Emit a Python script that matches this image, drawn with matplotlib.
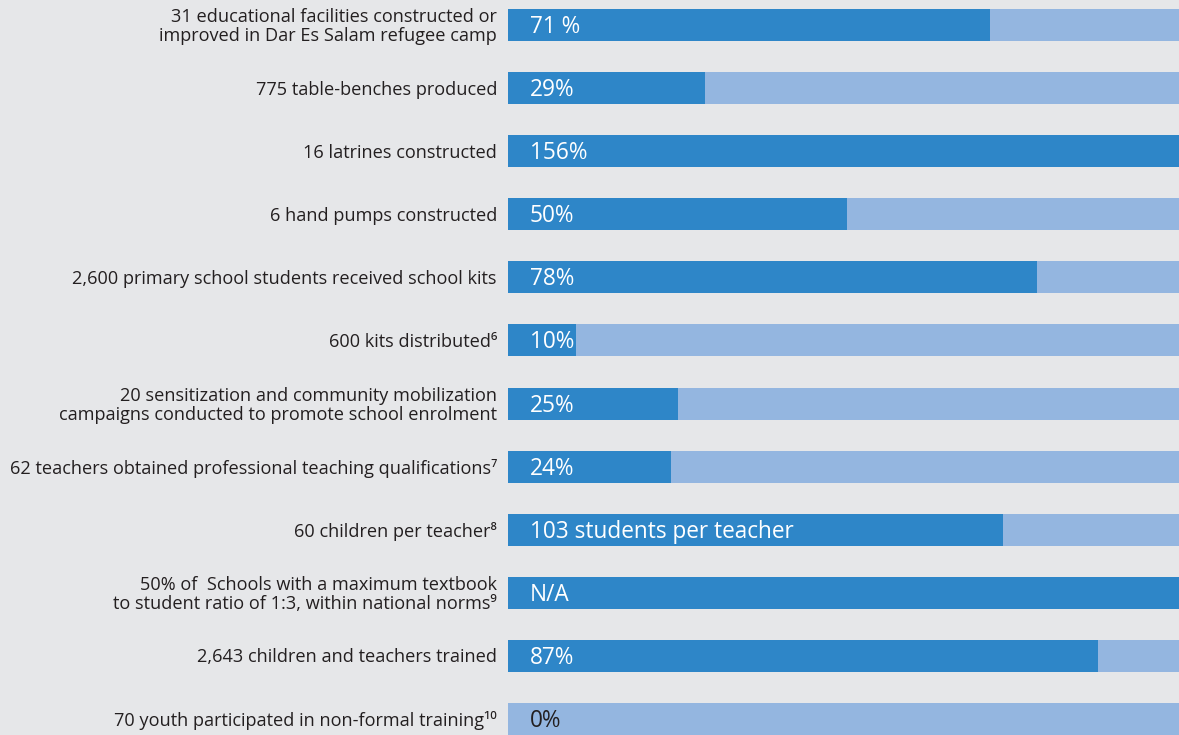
import matplotlib
matplotlib.use("Agg")
import matplotlib.pyplot as plt

FONT = 'Open Sans'
plt.rcParams['font.family'] = [FONT, 'DejaVu Sans']

labels = [
    "31 educational facilities constructed or\nimproved in Dar Es Salam refugee camp",
    "775 table-benches produced",
    "16 latrines constructed",
    "6 hand pumps constructed",
    "2,600 primary school students received school kits",
    "600 kits distributed\u2076",
    "20 sensitization and community mobilization\ncampaigns conducted to promote school enrolment",
    "62 teachers obtained professional teaching qualifications\u2077",
    "60 children per teacher\u2078",
    "50% of  Schools with a maximum textbook\nto student ratio of 1:3, within national norms\u2079",
    "2,643 children and teachers trained",
    "70 youth participated in non-formal training\u00b9\u2070",
]
progress = [0.718, 0.294, 1.0, 0.505, 0.788, 0.101, 0.253, 0.243, 0.738, 1.0, 0.879, 0.0]
value_texts = ["71 %", "29%", "156%", "50%", "78%", "10%", "25%", "24%",
               "103 students per teacher", "N/A", "87%", "0%"]

dark = "#2e86c8"
light = "#94b6e0"
bg = "#e6e7e9"
textc = "#231f20"

W, H = 1179, 735
fig = plt.figure(figsize=(W / 100, H / 100), dpi=100, facecolor=bg)
ax = fig.add_axes([508 / W, 0, 671 / W, 1])
ax.set_facecolor(bg)

n = len(labels)
pitch = (719 - 25) / (n - 1)
ys = list(range(n))
bh = 32 / pitch

ax.barh(ys, [1.0] * n, height=bh, color=light, left=0)
ax.barh(ys, progress, height=bh, color=dark, left=0)

ax.set_xlim(0, 1)
ax.set_ylim((H - 25) / pitch, -25 / pitch)
ax.axis('off')

for y, lab, vt, p in zip(ys, labels, value_texts, progress):
    ax.annotate(lab, xy=(0, y), xycoords='data', xytext=(-11, -1.5),
                textcoords='offset pixels', ha='right', va='center',
                fontsize=13.1, color=textc, linespacing=1.07,
                annotation_clip=False)
    col = 'white' if p > 0 else textc
    ax.annotate(vt, xy=(0, y), xycoords='data', xytext=(22, -2),
                textcoords='offset pixels', ha='left', va='center',
                fontsize=16.3, color=col, annotation_clip=False)

fig.savefig("out.png", dpi=100, facecolor=bg)
